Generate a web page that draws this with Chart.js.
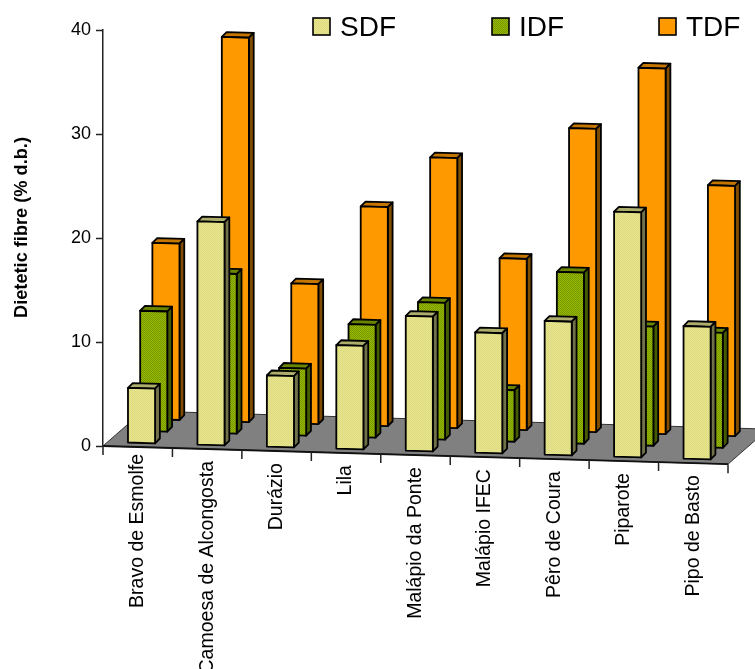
<!DOCTYPE html>
<html lang="en">
<head>
<meta charset="UTF-8">
<title>Dietetic fibre</title>
<script src="https://cdn.jsdelivr.net/npm/chart.js@4.4.0/dist/chart.umd.min.js"></script>
<style>
  html, body { margin: 0; padding: 0; background: #fff; overflow: hidden; }
  canvas { display: block; }
</style>
</head>
<body>
<canvas id="chart" width="755" height="669"></canvas>
<script>
const cultivars = ['Bravo de Esmolfe', 'Camoesa de Alcongosta', 'Durázio', 'Lila', 'Malápio da Ponte',
  'Malápio IFEC', 'Pêro de Coura', 'Piparote', 'Pipo de Basto'];
const sdf = [5.3, 21.5, 6.9, 10.0, 13.0, 11.6, 12.9, 23.6, 12.8];
const idf = [11.6, 15.4, 6.5, 10.9, 13.2, 5.0, 16.5, 11.5, 11.1];
const tdf = [17.0, 37.0, 13.5, 21.1, 26.0, 16.5, 29.2, 35.2, 24.1];
const yTicks = [0, 10, 20, 30, 40];
const yTitle = 'Dietetic fibre (% d.b.)';

// the fake 3D projection
const TILT = 0.029;           // slope of the floor front edge
const FLOOR_DEPTH = [40, -35];
const ROW_START = [3.8, -3.7];
const ROW_STEP = [12.2, -12];
const BAR_DEPTH = [4.8, -4.8];

function dotted(base, dot) {
  const c = document.createElement('canvas');
  c.width = c.height = 2;
  const g = c.getContext('2d');
  g.fillStyle = base;
  g.fillRect(0, 0, 2, 2);
  g.fillStyle = dot;
  g.fillRect(0, 0, 1, 1);
  g.fillRect(1, 1, 1, 1);
  return g.createPattern(c, 'repeat');
}

const faces = [
  { front: dotted('#e8e690', '#dcda7c'), side: '#72724a', top: '#adad6c' },
  { front: dotted('#99bb00', '#749400'), side: '#465c00', top: '#6a8500' },
  { front: '#ff9900', side: '#7f4c00', top: '#c47600' }
];

function poly(ctx, pts, fill) {
  ctx.beginPath();
  pts.forEach((p, i) => i ? ctx.lineTo(p[0], p[1]) : ctx.moveTo(p[0], p[1]));
  ctx.closePath();
  if (fill) {
    ctx.fillStyle = fill;
    ctx.fill();
  }
  ctx.stroke();
}

// replaces the flat bars with a box for every element, row by row
const bars3d = {
  id: 'bars3d',
  beforeDatasetDraw(chart, args) {
    const ctx = chart.ctx;
    const k = args.index;
    const left = chart.chartArea.left;
    ctx.save();
    ctx.strokeStyle = '#000';
    ctx.lineWidth = 1.8;
    ctx.lineJoin = 'round';
    args.meta.data.forEach(bar => {
      const w = bar.width;
      const x0 = bar.x - w / 2 + ROW_START[0] + k * ROW_STEP[0];
      const x1 = x0 + w;
      const shift = ROW_START[1] + k * ROW_STEP[1];
      const y0 = bar.base + shift + TILT * (x0 - left);
      const y1 = bar.base + shift + TILT * (x1 - left);
      const h = bar.base - bar.y;
      const dx = BAR_DEPTH[0], dy = BAR_DEPTH[1];
      poly(ctx, [[x0, y0 - h], [x0 + dx, y0 - h + dy], [x1 + dx, y1 - h + dy], [x1, y1 - h]], faces[k].top);
      poly(ctx, [[x1, y1], [x1, y1 - h], [x1 + dx, y1 - h + dy], [x1 + dx, y1 + dy]], faces[k].side);
      poly(ctx, [[x0, y0], [x0, y0 - h], [x1, y1 - h], [x1, y1]], faces[k].front);
    });
    ctx.restore();
    return false;
  }
};

// gray floor, slanted category axis, axis title and the legend
const sceneParts = {
  id: 'sceneParts',
  beforeDatasetsDraw(chart) {
    const ctx = chart.ctx;
    const a = chart.chartArea;
    const drop = TILT * (a.right - a.left);
    ctx.save();
    ctx.strokeStyle = '#333';
    ctx.lineWidth = 1;
    poly(ctx, [[a.left, a.bottom], [a.left + FLOOR_DEPTH[0], a.bottom + FLOOR_DEPTH[1]],
      [a.right + FLOOR_DEPTH[0], a.bottom + drop + FLOOR_DEPTH[1]], [a.right, a.bottom + drop]], '#808080');
    ctx.lineWidth = 2;
    ctx.strokeStyle = '#111';
    ctx.beginPath();
    ctx.moveTo(a.left, a.bottom);
    ctx.lineTo(a.right, a.bottom + drop);
    ctx.stroke();
    ctx.lineWidth = 1.5;
    ctx.strokeStyle = '#222';
    ctx.beginPath();
    const step = (a.right - a.left) / cultivars.length;
    for (let i = 0; i <= cultivars.length; i++) {
      const x = a.left + i * step;
      const y = a.bottom + TILT * (x - a.left);
      ctx.moveTo(x, y);
      ctx.lineTo(x, y + 9);
    }
    ctx.stroke();
    ctx.restore();
  },
  afterDraw(chart) {
    const ctx = chart.ctx;
    const a = chart.chartArea;
    const xs = chart.scales.x;
    ctx.save();
    ctx.fillStyle = '#000';
    ctx.font = '19.5px "Liberation Sans"';
    ctx.textAlign = 'right';
    ctx.textBaseline = 'middle';
    cultivars.forEach((name, i) => {
      const x = xs.getPixelForValue(i);
      const gap = i === 0 ? 7 : 12;   // first label sits closer to the axis in the original
      ctx.save();
      ctx.translate(x, a.bottom + TILT * (x - a.left) + gap);
      ctx.rotate(-Math.PI / 2);
      ctx.fillText(name, 0, 0);
      ctx.restore();
    });

    ctx.save();
    ctx.font = 'bold 18.2px "Liberation Sans"';
    ctx.textAlign = 'center';
    ctx.translate(22, 227.5);
    ctx.rotate(-Math.PI / 2);
    ctx.fillText(yTitle, 0, 0);
    ctx.restore();

    // legend entries sit at uneven gaps in the original
    const legendX = [313, 492, 659];
    ctx.font = '28px "Liberation Sans"';
    ctx.textAlign = 'left';
    ctx.strokeStyle = '#000';
    ctx.lineWidth = 1.6;
    chart.data.datasets.forEach((ds, k) => {
      ctx.fillStyle = faces[k].front;
      ctx.fillRect(legendX[k], 18, 17, 17);
      ctx.strokeRect(legendX[k], 18, 17, 17);
      ctx.fillStyle = '#000';
      ctx.fillText(ds.label, legendX[k] + 27, 28);
    });
    ctx.restore();
  }
};

const flat = { categoryPercentage: 1, barPercentage: 0.39, grouped: false };

new Chart(document.getElementById('chart'), {
  type: 'bar',
  data: {
    labels: cultivars,
    datasets: [
      { label: 'SDF', data: sdf, ...flat },
      { label: 'IDF', data: idf, ...flat },
      { label: 'TDF', data: tdf, ...flat }
    ]
  },
  options: {
    responsive: false,
    animation: false,
    events: [],
    layout: { padding: { top: 30, right: 27, bottom: 223, left: 0 } },
    plugins: { legend: { display: false }, tooltip: { enabled: false } },
    scales: {
      x: { display: false },
      y: {
        min: 0,
        max: 40,
        afterFit(scale) { scale.width = 103; },
        afterBuildTicks(scale) { scale.ticks = yTicks.map(value => ({ value })); },
        border: { color: '#222', width: 1.5 },
        grid: { drawOnChartArea: false, tickLength: 7, tickColor: '#222', tickWidth: 1.5 },
        ticks: {
          color: '#000',
          font: { family: '"Liberation Sans"', size: 18 },
          padding: 5
        }
      }
    }
  },
  plugins: [sceneParts, bars3d]
});
</script>
</body>
</html>
